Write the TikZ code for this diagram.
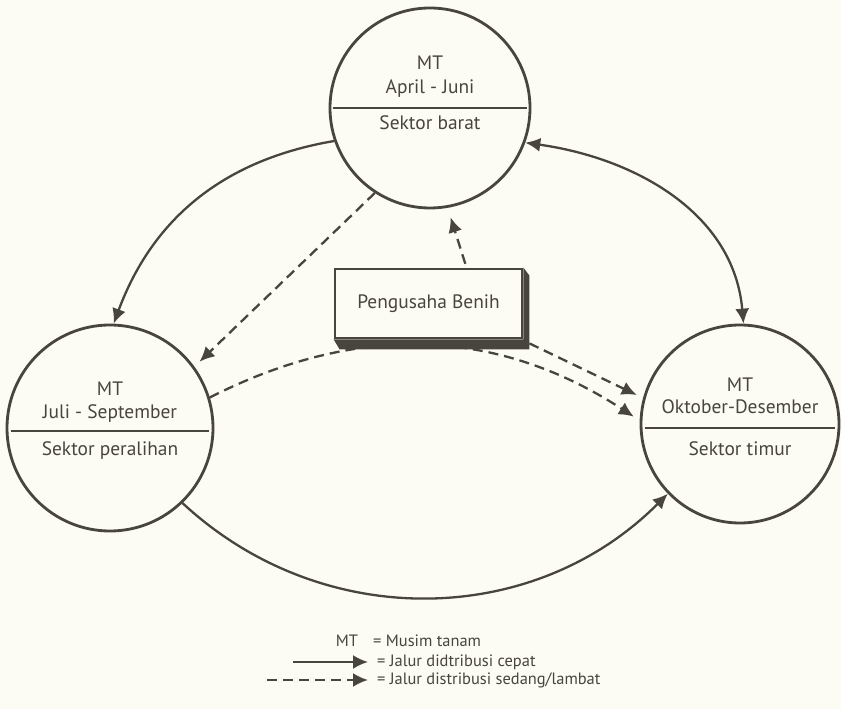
\documentclass[tikz,border=0pt]{standalone}
\usepackage{fontspec}
\setmainfont{PT Sans}
\usetikzlibrary{arrows.meta}
\definecolor{ink}{HTML}{47453E}
\definecolor{paper}{HTML}{FCFBF4}
\begin{document}
\begin{tikzpicture}[x=1bp,y=1bp,
  season/.style={circle, draw=ink, line width=2.8bp, minimum size=#1, inner sep=0pt},
  lbl/.style={text=ink, font=\fontsize{19.5}{22}\selectfont, inner sep=0pt},
  keytext/.style={text=ink, font=\fontsize{16.5}{19}\selectfont, inner sep=0pt},
  divider/.style={draw=ink, line width=2.4bp},
  fast/.style={draw=ink, line width=2.3bp, -{Latex[length=15bp,width=14bp]}},
  fastboth/.style={draw=ink, line width=2.3bp, {Latex[length=15bp,width=14bp]}-{Latex[length=15bp,width=14bp]}},
  slow/.style={draw=ink, line width=2.3bp, dash pattern=on 10bp off 6bp, -{Latex[length=15bp,width=14bp]}},
  boxst/.style={rectangle, draw=ink, line width=2.8bp, fill=paper, minimum width=187bp, minimum height=69bp, text=ink, font=\fontsize{19.5}{22}\selectfont},
]
\useasboundingbox (0,0) rectangle (841,709);
\fill[paper] (0,0) rectangle (841,709);

% season circles
\node[season=200bp] (top) at (430,601) {};
\node[season=206bp] (left) at (110,281) {};
\node[season=198bp] (right) at (740,285) {};

% dividers
\draw[divider] ([xshift=4bp]top.west) -- ([xshift=-4bp]top.east);
\draw[divider] ([xshift=5bp,yshift=-3bp]left.west) -- ([xshift=-5bp,yshift=-3bp]left.east);
\draw[divider] ([xshift=5bp,yshift=-4bp]right.west) -- ([xshift=-5bp,yshift=-4bp]right.east);

% circle texts
\node[lbl, anchor=base] (topmt) at (430,639) {MT};
\node[lbl, anchor=base] (topmon) at (430,615) {April - Juni};
\node[lbl, anchor=base] (topsec) at (430,579) {Sektor barat};

\node[lbl, anchor=base] (leftmt) at (110,313) {MT};
\node[lbl, anchor=base] (leftmon) at (110,290) {Juli - September};
\node[lbl, anchor=base] (leftsec) at (110,253) {Sektor peralihan};

\node[lbl, anchor=base] (rightmt) at (740,317) {MT};
\node[lbl, anchor=base] (rightmon) at (740,295) {Oktober-Desember};
\node[lbl, anchor=base] (rightsec) at (740,253) {Sektor timur};

% solid connectors
\draw[fast] (top.199) to[bend right=30] (left.88);
\draw[fastboth] (top.340) to[out=-8, in=95] (right.88);
\draw[fast] (left.314) to[bend right=44] (right.224);

% dashed connectors
\draw[slow, shorten >=7bp] (left.17) to[bend left=30] (right.178);
\draw[slow, shorten >=7bp] (top.237) -- (left.36);

% seed producer box with its extruded shadow
\node[boxst] (box) at (428.5,405.5) {Pengusaha Benih};
\fill[ink] (box.north east) -- ++(6,-8) -- ([shift={(6,-10)}]box.south east) -- ([shift={(6,-10)}]box.south west) -- (box.south west) -- (box.south east) -- cycle;

\draw[slow, shorten >=10bp, shorten <=4bp] ([xshift=38bp]box.north) -- (top.280);
\draw[slow, shorten >=7bp] ([shift={(6,-4)}]box.south east) -- (right.165);

% legend
\node[keytext, anchor=base] (mtkey) at (347,62) {MT};
\node[keytext, anchor=base west] (mtdef) at (373,62) {= Musim tanam};
\coordinate (fastA) at (293,47);
\coordinate (fastB) at (368,47);
\node[keytext, anchor=base west] (fastdef) at (377,42) {= Jalur didtribusi cepat};
\draw[fast] (fastA) -- (fastB);
\coordinate (slowA) at (267,29);
\coordinate (slowB) at (368,29);
\node[keytext, anchor=base west] (slowdef) at (377,24) {= Jalur distribusi sedang/lambat};
\draw[slow] (slowA) -- (slowB);
\end{tikzpicture}
\end{document}
